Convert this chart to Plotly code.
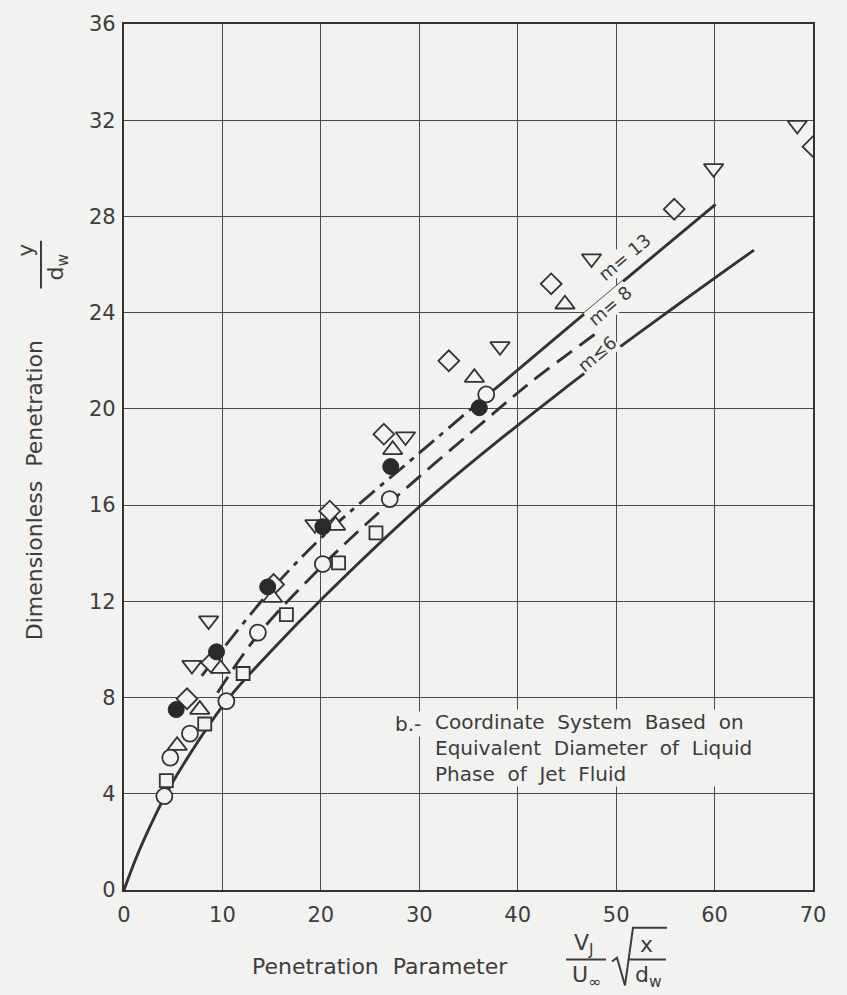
import plotly.graph_objects as go

# ---- data: penetration parameter (x) vs dimensionless penetration y/d_w (y) ----
filled_circle_x = [5.3, 9.4, 14.6, 20.2, 27.1, 36.1]
filled_circle_y = [7.5, 9.9, 12.6, 15.1, 17.6, 20.05]
open_circle_x = [4.1, 4.7, 6.7, 10.4, 13.6, 20.2, 27.0, 36.8]
open_circle_y = [3.9, 5.5, 6.5, 7.85, 10.7, 13.55, 16.25, 20.6]
square_x = [4.3, 8.2, 12.1, 16.5, 21.8, 25.6]
square_y = [4.55, 6.9, 9.0, 11.45, 13.6, 14.85]
tri_up_x = [5.4, 7.7, 9.8, 15.1, 21.5, 27.3, 35.6, 44.8]
tri_up_y = [6.0, 7.5, 9.2, 12.15, 15.15, 18.3, 21.3, 24.35]
tri_down_x = [6.9, 8.6, 19.4, 28.6, 38.2, 47.5, 59.9, 68.4]
tri_down_y = [9.35, 11.2, 15.2, 18.85, 22.6, 26.25, 30.0, 31.8]
diamond_x = [6.4, 8.9, 15.2, 20.9, 26.4, 33.0, 43.4, 55.9, 70.0]
diamond_y = [7.95, 9.45, 12.7, 15.75, 18.95, 22.0, 25.2, 28.3, 30.9]

# correlation curves
m6_x = [0, 1.2, 2.6, 4.1, 5.7, 10.4, 15.1, 20.1, 30.2, 44.3, 56.5, 64.0]
m6_y = [0, 1.3, 2.6, 3.85, 5.0, 7.85, 10.0, 12.1, 16.0, 20.7, 24.4, 26.6]
m8_x = [9.5, 13.6, 20.2, 27.0, 37.5, 41.3, 48.5]
m8_y = [8.2, 10.6, 13.5, 16.1, 19.8, 21.1, 23.3]
m13_lower_x = [7.9, 10.0, 14.8, 20.2, 30.1, 37.0]
m13_lower_y = [8.9, 10.0, 12.4, 14.7, 18.2, 20.6]
m13_upper_x = [37.0, 38.5, 50.4, 60.1]
m13_upper_y = [20.6, 21.1, 25.2, 28.5]

x_ticks = [0, 10, 20, 30, 40, 50, 60, 70]
y_ticks = [0, 4, 8, 12, 16, 20, 24, 28, 32, 36]

# ---- styling ----
W, H = 847, 995
L, R, T, B = 124, 34, 19, 105
PAPER = "#f2f2f0"
INK = "#333333"
TEXT = "#3d3d3d"
FONT = "DejaVu Sans"


def px(p):
    return (p - L) / (W - L - R)


def py(p):
    return (H - B - p) / (H - T - B)


fig = go.Figure()

line_style = dict(color=INK, width=2.9)
fig.add_trace(go.Scatter(x=m6_x, y=m6_y, mode="lines", line_shape="spline",
                         line=line_style, showlegend=False))
fig.add_trace(go.Scatter(x=m8_x, y=m8_y, mode="lines", line_shape="spline",
                         line=dict(color=INK, width=2.9, dash="19px,9px"),
                         showlegend=False))
fig.add_trace(go.Scatter(x=m13_lower_x, y=m13_lower_y, mode="lines", line_shape="spline",
                         line=dict(color=INK, width=2.9, dash="20px,7px,5px,7px"),
                         showlegend=False))
fig.add_trace(go.Scatter(x=m13_upper_x, y=m13_upper_y, mode="lines", line_shape="spline",
                         line=line_style, showlegend=False))


def open_marker(symbol, size):
    return dict(symbol=symbol, size=size, color=PAPER, line=dict(color=INK, width=1.8))


fig.add_trace(go.Scatter(x=tri_down_x, y=tri_down_y, mode="markers",
                         marker=open_marker("triangle-down", 17), showlegend=False))
fig.add_trace(go.Scatter(x=diamond_x, y=diamond_y, mode="markers",
                         marker=open_marker("diamond", 16), showlegend=False))
fig.add_trace(go.Scatter(x=tri_up_x, y=tri_up_y, mode="markers",
                         marker=open_marker("triangle-up", 17), showlegend=False))
fig.add_trace(go.Scatter(x=square_x, y=square_y, mode="markers",
                         marker=open_marker("square", 13), showlegend=False))
fig.add_trace(go.Scatter(x=open_circle_x, y=open_circle_y, mode="markers",
                         marker=open_marker("circle", 16), showlegend=False))
fig.add_trace(go.Scatter(x=filled_circle_x, y=filled_circle_y, mode="markers",
                         marker=dict(symbol="circle", size=16, color="#2a2a2a",
                                     line=dict(color="#2a2a2a", width=1)),
                         showlegend=False))

axis_common = dict(showgrid=True, gridcolor="#4a4a4a", gridwidth=1.3,
                   showline=True, linecolor=INK, linewidth=2.2, mirror=True,
                   zeroline=False, ticks="", tickfont=dict(family=FONT, size=21, color=TEXT))
fig.update_xaxes(range=[0, 70], tickvals=x_ticks, ticktext=[str(v) for v in x_ticks],
                 ticklabelstandoff=5, **axis_common)
fig.update_yaxes(range=[0, 36], tickvals=y_ticks, ticktext=[str(v) for v in y_ticks],
                 ticklabelstandoff=2, **axis_common)

ann = []
# curve labels
lab_font = dict(family=FONT, size=18, color=TEXT)
ann.append(dict(x=50.8, y=26.3, xref="x", yref="y", text="m= 13", showarrow=False,
                textangle=-40, font=lab_font, bgcolor=PAPER, borderpad=0))
ann.append(dict(x=49.4, y=24.3, xref="x", yref="y", text="m= 8", showarrow=False,
                textangle=-40, font=lab_font, bgcolor=PAPER, borderpad=0))
ann.append(dict(x=48.1, y=22.3, xref="x", yref="y", text="m≤6", showarrow=False,
                textangle=-40, font=lab_font, bgcolor=PAPER, borderpad=0))

# note block
note_font = dict(family=FONT, size=20, color=TEXT)
ann.append(dict(x=px(394), y=py(723), xref="paper", yref="paper", text="b.-",
                showarrow=False, xanchor="left", yanchor="middle", font=note_font,
                bgcolor=PAPER, borderpad=0))
ann.append(dict(x=px(434), y=py(747), xref="paper", yref="paper",
                text="Coordinate  System  Based  on<br>Equivalent  Diameter  of  Liquid<br>Phase  of  Jet  Fluid",
                showarrow=False, xanchor="left", yanchor="middle", align="left",
                font=note_font, bgcolor=PAPER, borderpad=0))

# axis titles
title_font = dict(family=FONT, size=22, color=TEXT)
ann.append(dict(x=px(34), y=py(488), xref="paper", yref="paper",
                text="Dimensionless  Penetration", textangle=-90, showarrow=False,
                xanchor="center", yanchor="middle", font=title_font))
ann.append(dict(x=px(26), y=py(247), xref="paper", yref="paper", text="y",
                textangle=-90, showarrow=False, xanchor="center", yanchor="middle",
                font=title_font))
ann.append(dict(x=px(58), y=py(264), xref="paper", yref="paper", text="d<sub>w</sub>",
                textangle=-90, showarrow=False, xanchor="center", yanchor="middle",
                font=title_font))

ann.append(dict(x=px(380), y=py(967), xref="paper", yref="paper",
                text="Penetration  Parameter", showarrow=False,
                xanchor="center", yanchor="middle", font=title_font))
ann.append(dict(x=px(584), y=py(945), xref="paper", yref="paper", text="V<sub>J</sub>",
                showarrow=False, xanchor="center", yanchor="middle", font=title_font))
ann.append(dict(x=px(586), y=py(977), xref="paper", yref="paper", text="U<sub>∞</sub>",
                showarrow=False, xanchor="center", yanchor="middle", font=title_font))
ann.append(dict(x=px(646), y=py(945), xref="paper", yref="paper", text="x",
                showarrow=False, xanchor="center", yanchor="middle", font=title_font))
ann.append(dict(x=px(648), y=py(977), xref="paper", yref="paper", text="d<sub>w</sub>",
                showarrow=False, xanchor="center", yanchor="middle", font=title_font))

shapes = [
    # fraction bar of y/d_w
    dict(type="line", xref="paper", yref="paper", x0=px(41), x1=px(41),
         y0=py(237), y1=py(285), line=dict(color=TEXT, width=2)),
    # fraction bar of V_J/U_inf
    dict(type="line", xref="paper", yref="paper", x0=px(566), x1=px(606),
         y0=py(960), y1=py(960), line=dict(color=TEXT, width=2)),
    # fraction bar of x/d_w
    dict(type="line", xref="paper", yref="paper", x0=px(628), x1=px(666),
         y0=py(960), y1=py(960), line=dict(color=TEXT, width=2)),
    # radical sign
    dict(type="path", xref="paper", yref="paper",
         path=(f"M {px(612)} {py(962)} L {px(617)} {py(958)} L {px(625)} {py(986)} "
               f"L {px(633)} {py(928)} L {px(667)} {py(928)}"),
         line=dict(color=TEXT, width=2)),
]

fig.update_layout(
    width=W, height=H, autosize=False,
    margin=dict(l=L, r=R, t=T, b=B),
    paper_bgcolor=PAPER, plot_bgcolor=PAPER,
    annotations=ann, shapes=shapes,
    showlegend=False,
)

fig.write_html("out.html")
